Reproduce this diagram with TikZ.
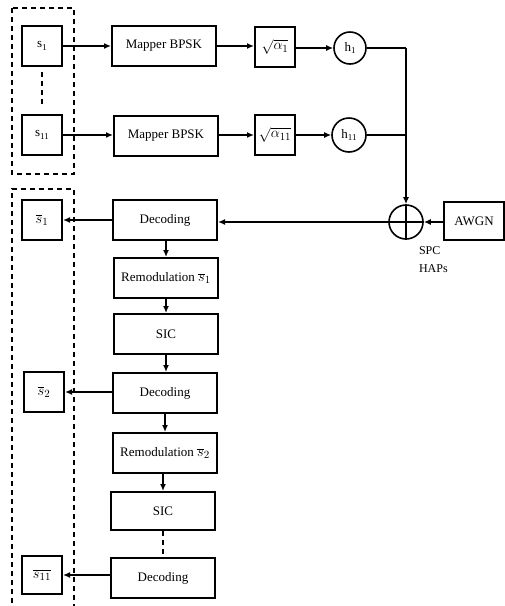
\documentclass[tikz,border=0pt]{standalone}
\usepackage{fontspec}
\setmainfont{Liberation Serif}
\usetikzlibrary{arrows.meta}
\newcommand\lsub[1]{\raisebox{-0.45ex}{\fontsize{9}{9}\selectfont #1}}
\newcommand\bm[1]{{\fontsize{15}{15}\selectfont$#1$}}
\begin{document}
\begin{tikzpicture}[x=1pt,y=-1pt,line width=2pt,
  font=\fontsize{13}{15}\selectfont,
  blk/.style={draw,line width=2pt,inner sep=0pt,align=center,minimum width=40pt,minimum height=40pt},
  wide/.style={blk,minimum width=104pt},
  circ/.style={draw,circle,line width=1.6pt,inner sep=0pt,minimum size=32pt},
  arr/.style={line width=2pt,-{Latex[length=7pt,width=6pt]}},
  dbox/.style={line width=2pt,dash pattern=on 5pt off 4pt}]
\useasboundingbox (0,0) rectangle (505,606);
% top dashed group
\draw[dbox] (12,8) rectangle (74,174);
\node[blk] (s1) at (42,46) {s\lsub{1}};
\node[blk] (s11) at (42,135) {s\lsub{11}};
\draw[dbox] (42,72) -- (42,107);
\node[wide] (map1) at (164,46) {Mapper BPSK};
\node[wide] (map2) at (166,136) {Mapper BPSK};
\node[blk] (sq1) at (275,47) {\bm{\sqrt{\alpha_1}}};
\node[blk] (sq2) at (275,135) {\bm{\sqrt{\alpha_{11}}}};
\node[circ] (h1) at (350,48) {h\lsub{1}};
\node[circ,minimum size=34pt] (h11) at (349,135) {h\lsub{11}};
\node[circ,minimum size=34pt] (sum) at (406,222) {};
\draw[line width=1.6pt] (sum.north) -- (sum.south) (sum.west) -- (sum.east);
\node[blk,minimum width=60pt,minimum height=38pt] (awgn) at (474,221) {AWGN};
\node[align=left,anchor=north west,inner sep=0pt,font=\fontsize{12}{18}\selectfont] (spc) at (418,246) {SPC\\HAPs};
\coordinate (j1) at (406,48);
\coordinate (j2) at (406,135);
\draw[arr] (s1.east) -- (map1.west);
\draw[arr] (s11.east) -- (s11.east -| map2.west);
\draw[arr] (map1.east) -- (sq1.west |- map1.east);
\draw[arr] (map2.east |- sq2.west) -- (sq2.west);
\draw[arr] (sq1.east |- h1.west) -- (h1.west);
\draw[arr] (sq2.east) -- (h11.west);
\draw (h1.east) -- (j1);
\draw (h11.east) -- (j2);
\draw[arr] (j1) -- (sum.north);
\draw[arr] (awgn.west |- sum) -- (sum.east);
% receiver
\draw[dbox] (12,612) -- (12,189) -- (74,189) -- (74,612);
\node[wide] (dec1) at (165,220) {Decoding};
\node[wide] (rem1) at (166,278) {Remodulation \bm{\overline{s}_1}};
\node[wide] (sic1) at (166,334) {SIC};
\node[wide] (dec2) at (165,393) {Decoding};
\node[wide] (rem2) at (165,453) {Remodulation \bm{\overline{s}_2}};
\node[wide,minimum height=38pt] (sic2) at (163,511) {SIC};
\node[wide] (dec3) at (163,578) {Decoding};
\node[blk] (sb1) at (42,220) {\bm{\overline{s}_1}};
\node[blk] (sb2) at (44,392) {\bm{\overline{s}_2}};
\node[blk,minimum height=38pt] (sb11) at (42,575) {\bm{\overline{s_{11}}}};
\draw[arr] (sum.west) -- (sum.west -| dec1.east);
\draw[arr] (dec1.west |- sb1.east) -- (sb1.east);
\draw[arr] (dec2.west |- sb2.east) -- (sb2.east);
\draw[arr] (dec3.west |- sb11.east) -- (sb11.east);
\draw[arr] (dec1.south -| rem1.north) -- (rem1.north);
\draw[arr] (rem1.south) -- (sic1.north);
\draw[arr] (sic1.south) -- (sic1.south |- dec2.north);
\draw[arr] (dec2.south) -- (dec2.south |- rem2.north);
\draw[arr] (rem2.south -| sic2.north) -- (sic2.north);
\draw[dbox] (sic2.south) -- (dec3.north);
\end{tikzpicture}
\end{document}
